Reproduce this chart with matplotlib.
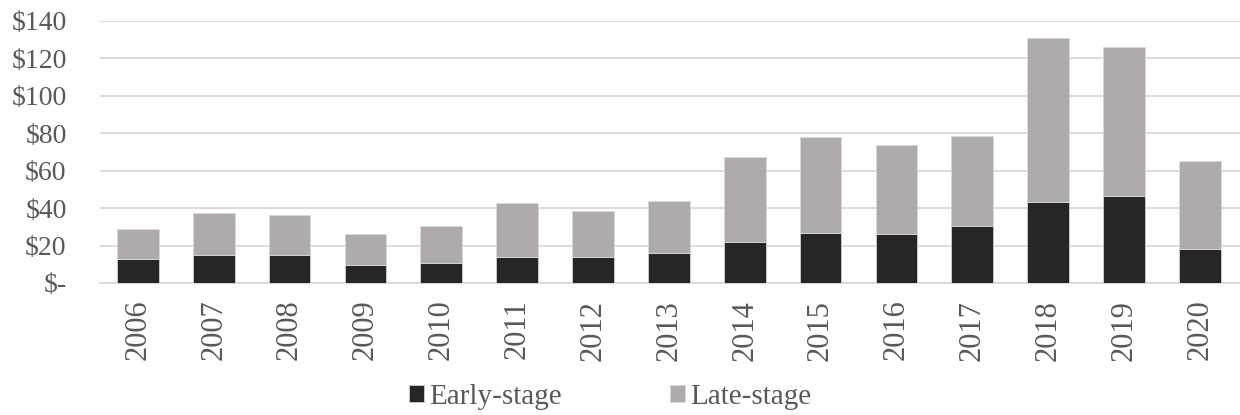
import matplotlib
matplotlib.use('Agg')
from matplotlib import pyplot as plt
from matplotlib.ticker import FuncFormatter
import numpy as np

years = ['2006', '2007', '2008', '2009', '2010', '2011', '2012', '2013',
         '2014', '2015', '2016', '2017', '2018', '2019', '2020']
early_stage = [13.0, 14.9, 14.9, 9.6, 10.7, 13.7, 13.7, 16.2,
               21.7, 26.7, 26.0, 30.4, 43.2, 46.4, 18.1]
late_stage = [15.8, 22.6, 21.4, 16.7, 19.5, 29.1, 24.5, 27.4,
              45.5, 51.3, 47.8, 48.2, 87.6, 79.6, 46.8]
y_ticks = [0, 20, 40, 60, 80, 100, 120, 140]

plt.rcParams['font.family'] = ['Liberation Serif', 'DejaVu Serif']

fig = plt.figure(figsize=(12.4, 4.15), dpi=100)
ax = fig.add_axes([100 / 1240, (415 - 283) / 415, 1 - 100 / 1240, (283 - 20.5) / 415])

x = np.arange(len(years))
w = 0.55
ax.bar(x, early_stage, w, color='#262626', edgecolor='#d0d0d0', linewidth=0.6,
       label='Early-stage', zorder=3)
ax.bar(x, late_stage, w, bottom=early_stage, color='#aeabaa', edgecolor='#d8d8d8',
       linewidth=0.6, label='Late-stage', zorder=3)

ax.set_xlim(-0.5, 14.53)
ax.set_ylim(0, 140)
ax.set_yticks(y_ticks)
ax.yaxis.set_major_formatter(FuncFormatter(lambda v, p: '$-' if v == 0 else '$%d' % v))
ax.set_xticks(x)
ax.set_xticklabels(years, rotation=90)
ax.tick_params(axis='both', length=0, labelcolor='#595959')
ax.tick_params(axis='y', pad=24, labelsize=20)
ax.tick_params(axis='x', pad=12, labelsize=22)

ax.grid(axis='y', color='#d9d9d9', linewidth=1.3, zorder=0)
for s in ['top', 'right', 'left']:
    ax.spines[s].set_visible(False)
ax.spines['bottom'].set_color('#d9d9d9')
ax.spines['bottom'].set_linewidth(1.3)

handles, labels = ax.get_legend_handles_labels()
fig.legend(handles, labels, loc='center', ncol=2, frameon=False,
           bbox_to_anchor=(610 / 1240, 1 - 397 / 415),
           prop={'size': 21}, labelcolor='#595959',
           handlelength=0.52, handleheight=0.52, handletextpad=0.17,
           columnspacing=3.7, borderpad=0)

fig.savefig('out.png', dpi=100)
